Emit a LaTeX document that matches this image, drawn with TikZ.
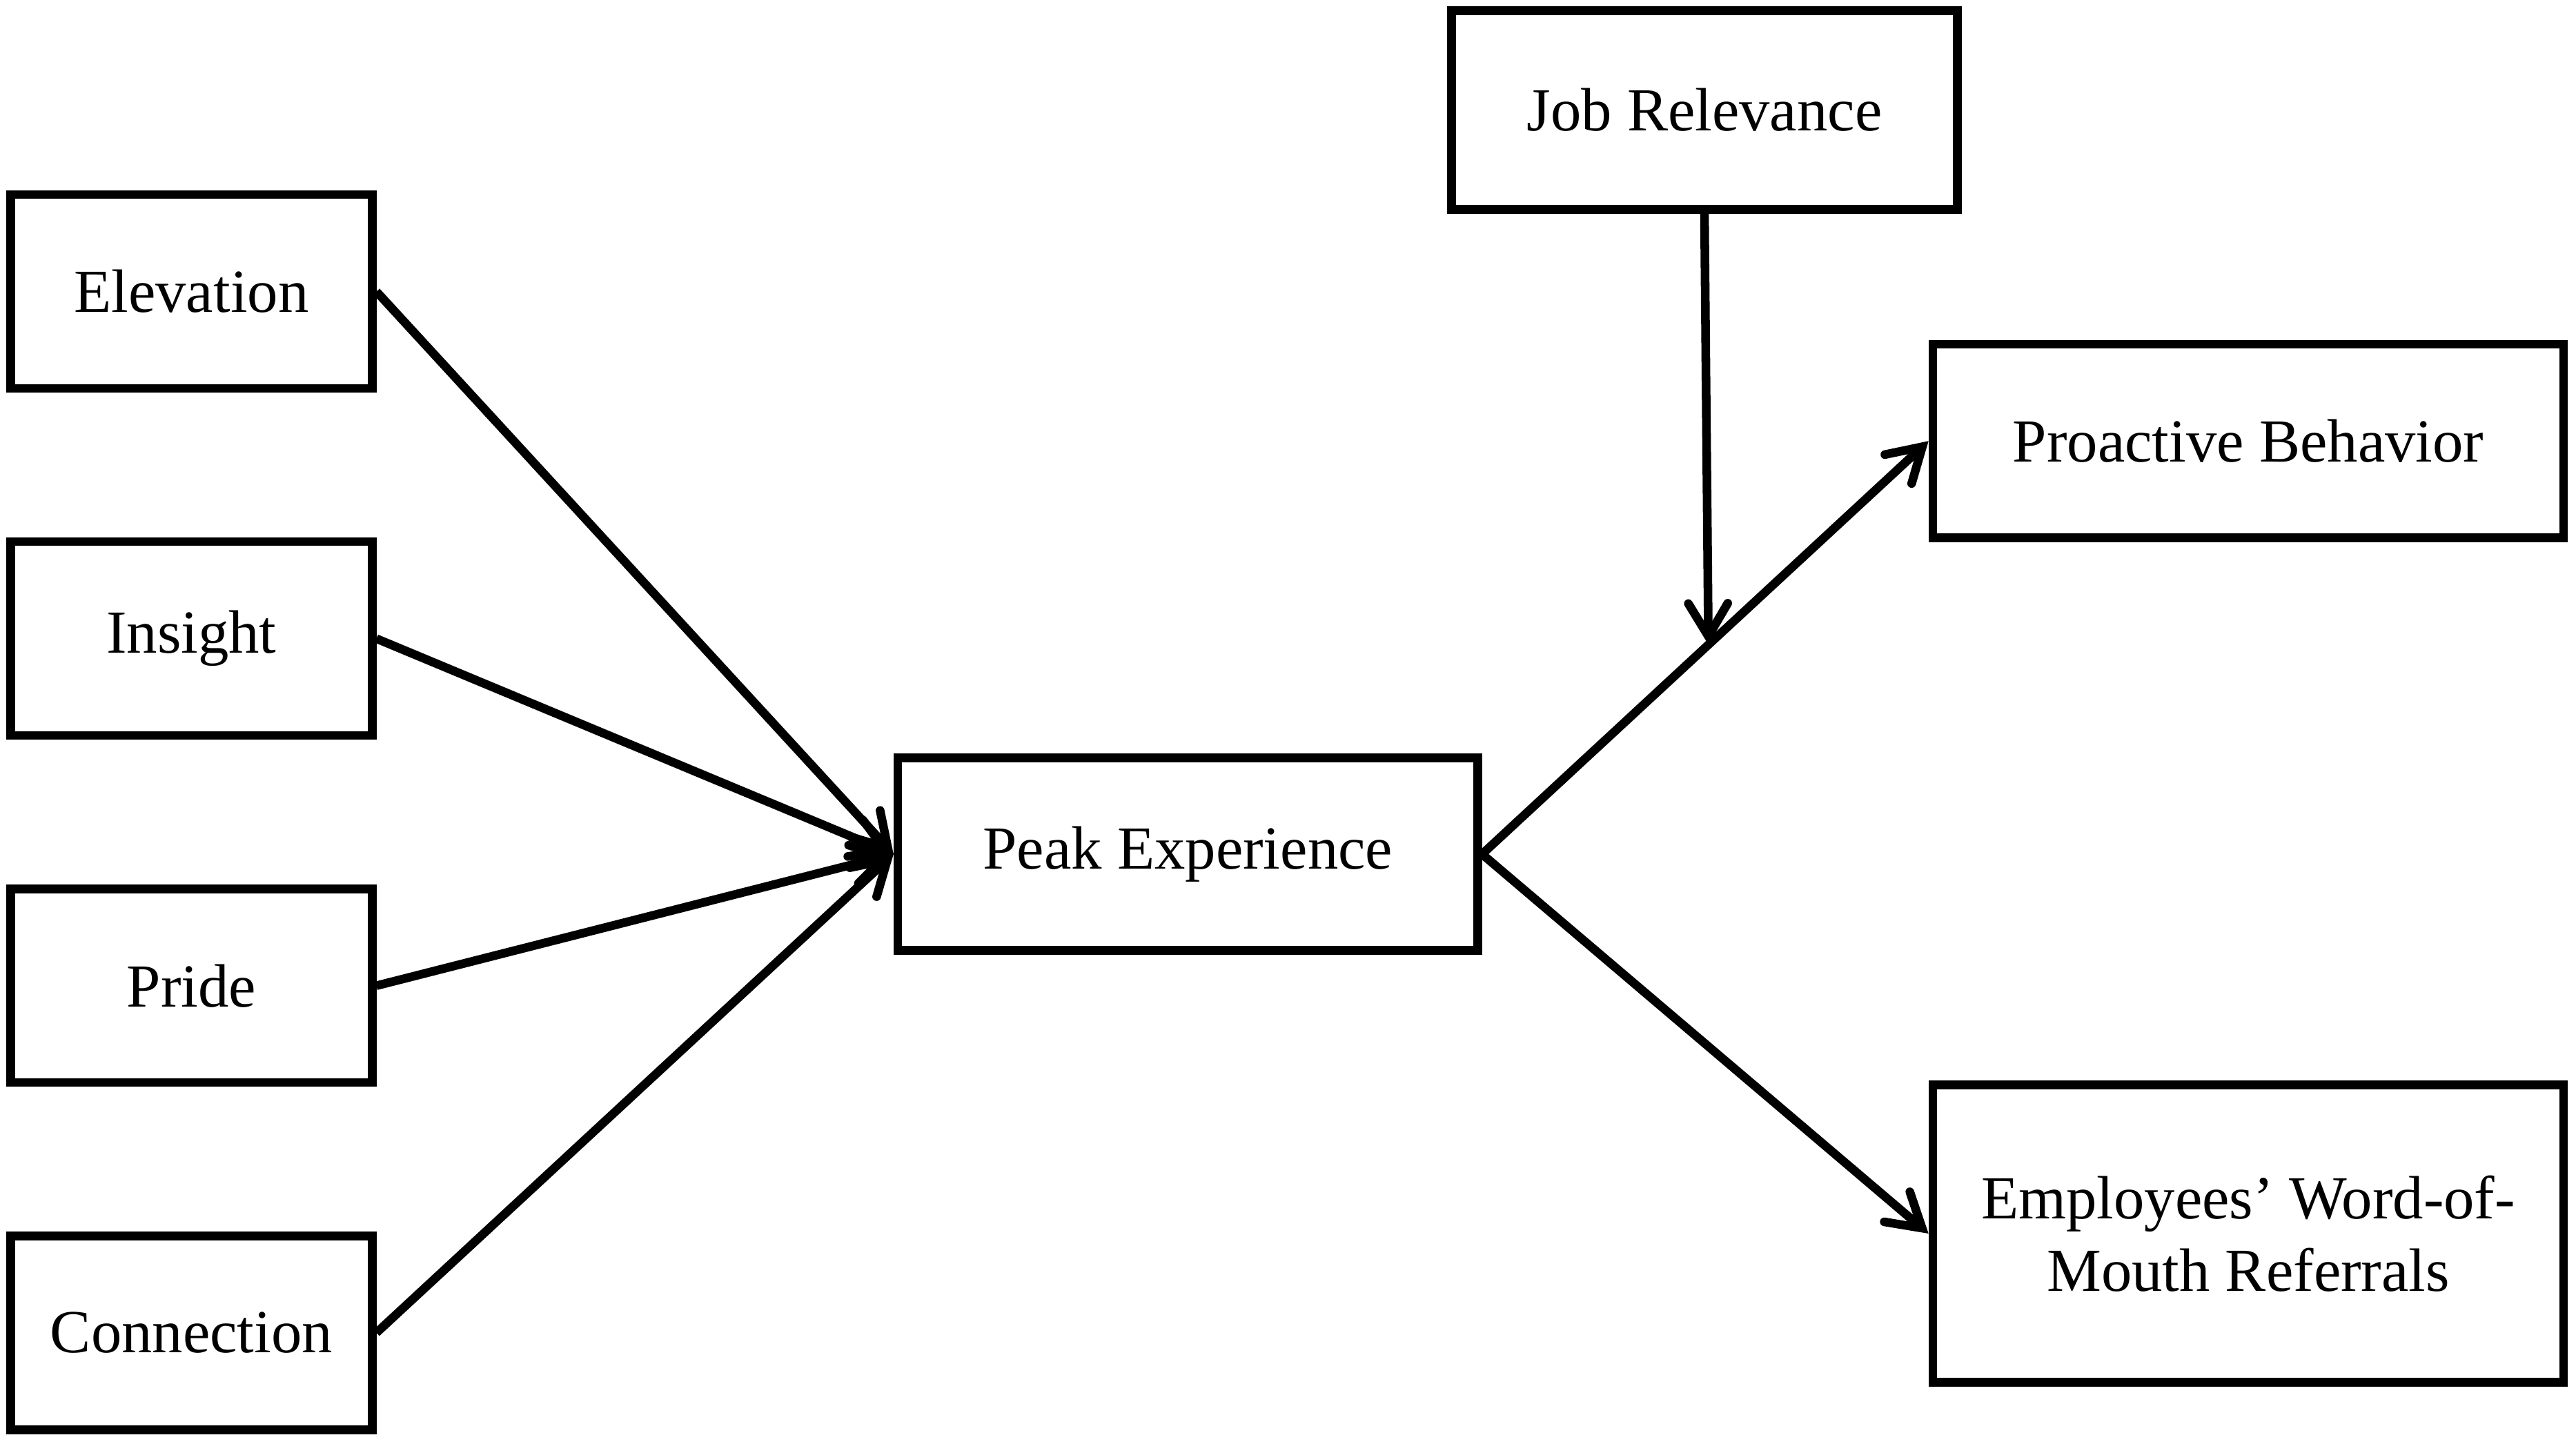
\documentclass[tikz,border=0pt]{standalone}
\usepackage{fontspec}
\setmainfont{Liberation Serif}
\usepackage{tikz}
\usetikzlibrary{arrows.meta}
\usetikzlibrary{calc}
\tikzstyle{factor} = [rectangle, minimum width=2.20cm, minimum height=1.18cm, text centered, draw=black, line width=1.5pt]
\tikzstyle{central} = [rectangle, minimum width=3.53cm, minimum height=1.17cm, text centered, draw=black, line width=1.5pt]
\tikzstyle{moderator} = [rectangle, minimum width=3.08cm, minimum height=1.21cm, text centered, draw=black, line width=1.5pt]
\tikzstyle{outcome} = [rectangle, minimum width=3.84cm, minimum height=1.18cm, text centered, align=center, draw=black, line width=1.5pt]
\tikzstyle{arrow} = [line width=1.5pt, -{Straight Barb[length=2mm, width=2.4mm, line cap=round]}]

\begin{document}
\begin{tikzpicture}[node distance=2.113cm, font=\fontsize{10.6}{12.5}\selectfont]
\useasboundingbox (0,0) rectangle (15.68,8.79);
\node (elev)[factor] at (1.165,7.015) {Elevation};
\node (ins)[factor, below of=elev] {Insight};
\node (pride)[factor, below of=ins] {Pride};
\node (conn)[factor, below of=pride] {Connection};

\node (peak)[central] at (7.23,3.59) {Peak Experience};
\node (job)[moderator] at (10.375,8.12) {Job Relevance};
\node (pro)[outcome] at (13.685,6.105) {Proactive Behavior};
\node (emp)[outcome, minimum height=1.81cm] at (13.685,1.28) {Employees’ Word-of-\\Mouth Referrals};

\coordinate (mod) at ($(peak.east)!0.507!(pro.west)$);

\draw [arrow] (elev.east) -- (peak.west);
\draw [arrow] (ins.east) -- (peak.west);
\draw [arrow] (pride.east) -- (peak.west);
\draw [arrow] (conn.east) -- (peak.west);
\draw [arrow] (peak.east) -- (pro.west);
\draw [arrow] (peak.east) -- (emp.west);
\draw [arrow] (job.south) -- (mod);

\end{tikzpicture}
\end{document}
